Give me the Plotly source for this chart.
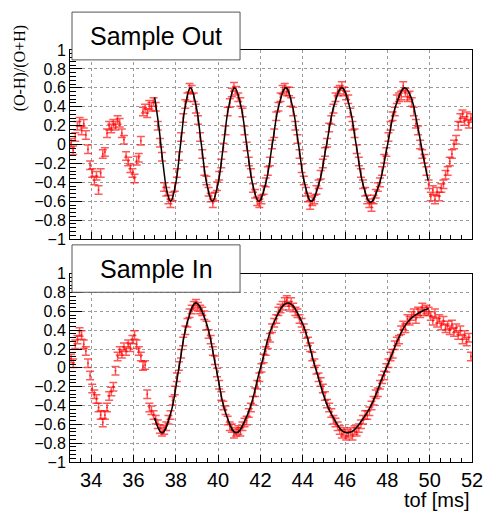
import numpy as np
import plotly.graph_objects as go
from plotly.subplots import make_subplots

# bin centres, 0.1 ms bins from 33 to 52 ms
tof = np.round(np.arange(33.05, 52.0, 0.1), 2)

# Sample Out asymmetry per bin
asym_out = [
    0.02, -0.06, 0.08, 0.20, 0.24, 0.15, 0.22, 0.10, -0.05, -0.22,
    -0.30, -0.38, -0.33, -0.48, -0.30, -0.10, -0.08, 0.12, 0.20, 0.17,
    0.22, 0.20, 0.26, 0.23, 0.12, 0.05, -0.12, -0.18, -0.25, -0.30,
    -0.36, -0.17, -0.14, 0.04, 0.35, 0.38, 0.33, 0.42, 0.40, 0.45,
    0.40, 0.20, 0.02, -0.13, -0.45, -0.50, -0.58, -0.62, -0.55, -0.45,
    -0.30, -0.12, 0.08, 0.28, 0.43, 0.50, 0.60, 0.58, 0.50, 0.38,
    0.26, 0.08, -0.10, -0.28, -0.38, -0.50, -0.56, -0.62, -0.55, -0.44,
    -0.33, -0.20, -0.03, 0.15, 0.35, 0.44, 0.55, 0.61, 0.57, 0.50,
    0.45, 0.34, 0.15, -0.02, -0.18, -0.30, -0.46, -0.52, -0.60, -0.62,
    -0.58, -0.48, -0.40, -0.28, -0.18, 0.00, 0.12, 0.30, 0.40, 0.50,
    0.58, 0.60, 0.56, 0.56, 0.45, 0.35, 0.20, 0.06, -0.10, -0.25,
    -0.38, -0.50, -0.56, -0.64, -0.60, -0.58, -0.48, -0.42, -0.32, -0.20,
    -0.08, 0.02, 0.18, 0.26, 0.38, 0.50, 0.56, 0.58, 0.62, 0.56,
    0.52, 0.48, 0.34, 0.20, 0.12, -0.05, -0.18, -0.30, -0.42, -0.50,
    -0.58, -0.62, -0.66, -0.58, -0.52, -0.45, -0.40, -0.28, -0.15, -0.08,
    0.08, 0.20, 0.30, 0.35, 0.48, 0.50, 0.52, 0.62, 0.55, 0.50,
    0.52, 0.45, 0.35, 0.22, 0.15, 0.00, -0.10, -0.15, -0.28, -0.42,
    -0.55, -0.48, -0.58, -0.50, -0.55, -0.46, -0.42, -0.32, -0.28, -0.18,
    -0.10, 0.00, 0.05, 0.20, 0.28, 0.32, 0.25, 0.30, 0.22, 0.28,
]

# Sample In asymmetry per bin
asym_in = [
    0.10, 0.05, 0.25, 0.30, 0.38, 0.35, 0.25, 0.18, 0.05, -0.08,
    -0.22, -0.28, -0.33, -0.42, -0.50, -0.58, -0.50, -0.42, -0.30, -0.25,
    -0.20, -0.03, 0.12, 0.18, 0.15, 0.22, 0.18, 0.25, 0.22, 0.30,
    0.35, 0.25, 0.18, 0.12, 0.02, 0.03, -0.28, -0.42, -0.45, -0.50,
    -0.55, -0.60, -0.65, -0.68, -0.66, -0.62, -0.55, -0.50, -0.35, -0.24,
    -0.10, 0.02, 0.15, 0.28, 0.40, 0.48, 0.58, 0.62, 0.66, 0.68,
    0.65, 0.62, 0.60, 0.56, 0.45, 0.36, 0.30, 0.18, 0.08, -0.05,
    -0.18, -0.30, -0.40, -0.45, -0.56, -0.62, -0.64, -0.70, -0.68, -0.66,
    -0.68, -0.62, -0.58, -0.56, -0.48, -0.42, -0.35, -0.26, -0.18, -0.10,
    0.00, 0.10, 0.18, 0.25, 0.32, 0.42, 0.48, 0.52, 0.60, 0.63,
    0.66, 0.70, 0.72, 0.66, 0.70, 0.64, 0.60, 0.58, 0.52, 0.48,
    0.42, 0.36, 0.28, 0.22, 0.12, 0.05, -0.02, -0.10, -0.15, -0.22,
    -0.30, -0.38, -0.42, -0.48, -0.55, -0.58, -0.62, -0.66, -0.70, -0.68,
    -0.72, -0.70, -0.68, -0.72, -0.66, -0.68, -0.64, -0.60, -0.55, -0.50,
    -0.50, -0.46, -0.40, -0.35, -0.28, -0.26, -0.18, -0.12, -0.08, 0.00,
    0.05, 0.12, 0.15, 0.24, 0.28, 0.30, 0.40, 0.45, 0.42, 0.52,
    0.50, 0.55, 0.58, 0.52, 0.60, 0.58, 0.64, 0.60, 0.62, 0.60,
    0.55, 0.50, 0.58, 0.48, 0.52, 0.45, 0.50, 0.42, 0.45, 0.40,
    0.46, 0.38, 0.42, 0.35, 0.40, 0.30, 0.35, 0.28, 0.32, 0.12,
]

err_out = 0.045
err_in = 0.045

fit_out_t = [37.0, 37.2, 37.4, 37.6, 37.76, 37.99, 38.225, 38.46, 38.69, 38.95,
             39.21, 39.47, 39.73, 39.99, 40.255, 40.52, 40.78, 41.065, 41.35,
             41.635, 41.92, 42.24, 42.56, 42.88, 43.2, 43.5, 43.8, 44.1, 44.4,
             44.76, 45.125, 45.49, 45.85, 46.19, 46.525, 46.86, 47.2, 47.6,
             48.01, 48.41, 48.82, 49.1, 49.4, 49.7, 49.93]
fit_out_v = [0.50, 0.19, -0.21, -0.51, -0.60, -0.42, 0.0, 0.42, 0.60, 0.42,
             0.0, -0.42, -0.60, -0.42, 0.0, 0.42, 0.60, 0.42, 0.0,
             -0.42, -0.60, -0.42, 0.0, 0.42, 0.60, 0.42, 0.0, -0.42, -0.60,
             -0.42, 0.0, 0.42, 0.60, 0.42, 0.0, -0.43, -0.61, -0.43,
             0.0, 0.42, 0.60, 0.51, 0.23, -0.13, -0.38]

fit_in_t = [37.0, 37.35, 37.75, 38.15, 38.55, 38.95, 39.425, 39.9, 40.375, 40.85,
            41.4, 42.0, 42.65, 43.3, 43.95, 44.6, 45.35, 46.1, 47.0, 47.95,
            48.9, 49.45, 49.95]
fit_in_v = [-0.53, -0.69, -0.49, 0.0, 0.49, 0.69, 0.49, 0.0, -0.49, -0.69,
            -0.49, 0.0, 0.49, 0.69, 0.49, 0.0, -0.49, -0.69, -0.49, 0.0,
            0.47, 0.58, 0.63]

x_ticks = [34, 36, 38, 40, 42, 44, 46, 48, 50, 52]
y_ticks = [-1, -0.8, -0.6, -0.4, -0.2, 0, 0.2, 0.4, 0.6, 0.8, 1]

RED = 'rgba(255,0,0,0.65)'
FONT = 'Liberation Sans, Arial, Helvetica, sans-serif'

fig = make_subplots(rows=2, cols=1)

for row, vals, err, ft, fv in [(1, asym_out, err_out, fit_out_t, fit_out_v),
                               (2, asym_in, err_in, fit_in_t, fit_in_v)]:
    fig.add_trace(go.Scatter(
        x=tof, y=vals, mode='markers',
        marker=dict(size=2, color=RED),
        error_y=dict(type='constant', value=err, color=RED, thickness=1.5, width=4),
        showlegend=False, hoverinfo='skip'
    ), row=row, col=1)
    fig.add_trace(go.Scatter(
        x=ft, y=fv, mode='lines',
        line=dict(color='black', width=1.5, shape='spline', smoothing=1.2),
        showlegend=False, hoverinfo='skip'
    ), row=row, col=1)

axis_common = dict(
    range=[33, 52], tickmode='array', tickvals=x_ticks,
    ticks='inside', ticklen=7, tickcolor='black',
    showline=True, mirror=True, linecolor='black', linewidth=1,
    showgrid=True, gridcolor='#9a9a9a', griddash='dot', gridwidth=1,
    zeroline=False, ticklabeloverflow='allow', automargin=False,
    minor=dict(ticks='inside', ticklen=4, tickcolor='black', dtick=0.5, tick0=33, showgrid=False),
)
fig.update_xaxes(axis_common)
fig.update_xaxes(showticklabels=False, domain=[0, 1], row=1, col=1)
fig.update_xaxes(domain=[0, 1], tickfont=dict(family=FONT, size=20, color='black'), row=2, col=1)

fig.update_yaxes(
    range=[-1, 1], tickmode='array', tickvals=y_ticks,
    ticks='inside', ticklen=12, tickcolor='black',
    showline=True, mirror=True, linecolor='black', linewidth=1,
    showgrid=True, gridcolor='#9a9a9a', griddash='dot', gridwidth=1,
    zeroline=False, automargin=False,
    tickfont=dict(family=FONT, size=16, color='black'),
    minor=dict(ticks='inside', ticklen=6, tickcolor='black', dtick=0.04, tick0=-1, showgrid=False),
)
fig.update_yaxes(domain=[0.541, 1.0], row=1, col=1)
fig.update_yaxes(domain=[0.0, 0.457], row=2, col=1)

# title boxes
fig.add_shape(type='rect', xref='paper', yref='paper', x0=0.005, x1=0.423, y0=0.976, y1=1.092,
              fillcolor='white', line=dict(color='#555555', width=1), layer='above')
fig.add_shape(type='rect', xref='paper', yref='paper', x0=0.005, x1=0.423, y0=0.412, y1=0.527,
              fillcolor='white', line=dict(color='#555555', width=1), layer='above')

fig.add_annotation(x=0.214, y=1.034, xref='paper', yref='paper', text='Sample Out', showarrow=False,
                   font=dict(family=FONT, size=25, color='black'), xanchor='center', yanchor='middle')
fig.add_annotation(x=0.214, y=0.469, xref='paper', yref='paper', text='Sample In', showarrow=False,
                   font=dict(family=FONT, size=25, color='black'), xanchor='center', yanchor='middle')

# axis titles
fig.add_annotation(x=-0.124, y=0.956, xref='paper', yref='paper', text='(O-H)/(O+H)', showarrow=False,
                   textangle=-90, font=dict(family='Liberation Serif, Times New Roman, serif', size=16, color='black'),
                   xanchor='center', yanchor='middle')
fig.add_annotation(x=1.0, y=-0.06, xref='paper', yref='paper', text='tof [ms]', showarrow=False,
                   font=dict(family=FONT, size=20, color='black'), xanchor='right', yanchor='top')

fig.update_layout(
    width=485, height=511, autosize=False,
    margin=dict(l=70, r=13, t=50, b=49),
    paper_bgcolor='white', plot_bgcolor='white',
    showlegend=False,
)

fig.write_html("out.html",
               config={'responsive': False, 'displayModeBar': False},
               post_script="document.body.style.margin='0';document.body.style.overflow='hidden';")
